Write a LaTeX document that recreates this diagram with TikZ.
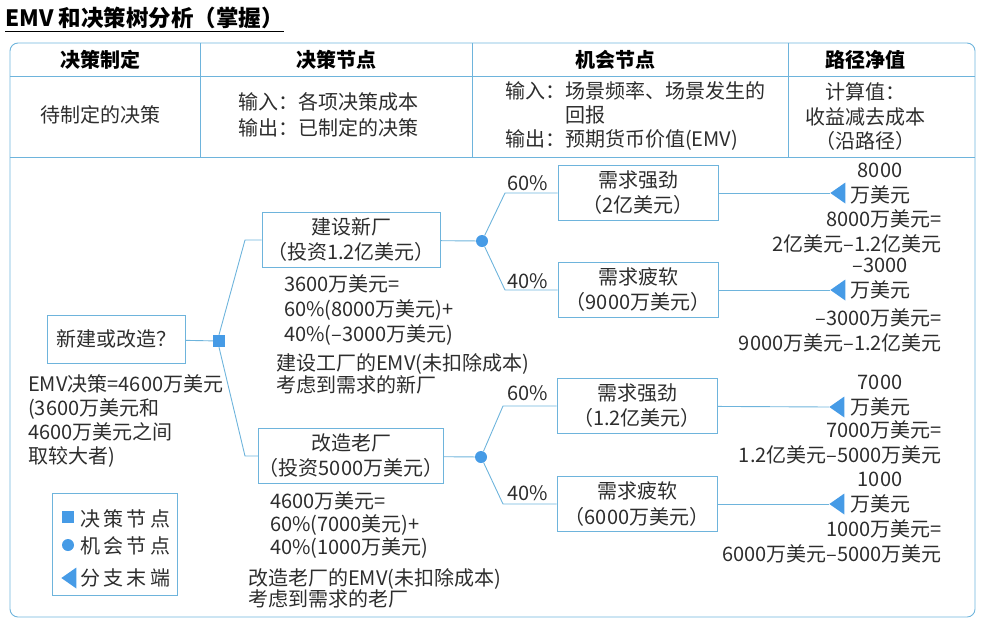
\documentclass[tikz,border=0pt]{standalone}
\usepackage{fontspec}
\setmainfont{Noto Sans CJK SC}
\usepackage{tikz}
\usetikzlibrary{shapes.geometric,positioning}
\definecolor{lineblue}{RGB}{110,180,220}
\definecolor{nodeblue}{RGB}{70,155,230}
\definecolor{inkgray}{RGB}{45,45,45}

\begin{document}
\begin{tikzpicture}[x=1pt,y=-1pt,
  txt/.style={font=\fontsize{20}{25}\selectfont,text=inkgray,inner sep=0pt,align=center},
  lefttxt/.style={txt,align=left,anchor=west},
  righttxt/.style={txt,align=right,anchor=east},
  hd/.style={txt,font=\fontsize{20}{25}\selectfont\bfseries,text=black},
  optbox/.style={txt,draw=lineblue,line width=0.9pt,minimum width=178pt,minimum height=55pt},
  outbox/.style={optbox,minimum width=160pt},
  decnode/.style={rectangle,fill=nodeblue,minimum size=12pt,inner sep=0pt},
  chnode/.style={circle,fill=nodeblue,minimum size=12pt,inner sep=0pt},
  endnode/.style={isosceles triangle,isosceles triangle apex angle=70,shape border rotate=180,
                  fill=nodeblue,minimum height=15pt,inner sep=0pt},
  ln/.style={lineblue,line width=0.9pt}
]
\useasboundingbox (0,0) rectangle (988,630);

% title
\node[anchor=west,inner sep=0pt,font=\fontsize{22.5}{25}\selectfont\bfseries] (title) at (5,18) {EMV 和决策树分析（掌握）};
\draw[black,line width=0.8pt] ([yshift=-2pt]title.south west) -- ([yshift=-2pt]title.south east);

% table
\draw[ln,rounded corners=8pt] (10,43) rectangle (975,617);
\draw[ln] (10,76) -- (975,76);
\draw[ln] (10,157) -- (975,157);
\foreach \cx in {200,472,788} \draw[ln] (\cx,43) -- (\cx,157);

\node[hd] (h1) at (100,60) {决策制定};
\node[hd] (h2) at (336,60) {决策节点};
\node[hd] (h3) at (615,60) {机会节点};
\node[hd] (h4) at (865,60) {路径净值};

\node[txt] (r1) at (100,115) {待制定的决策};
\node[lefttxt,font=\fontsize{20}{26}\selectfont] (r2) at (238,115) {输入：各项决策成本\\输出：已制定的决策};
\node[lefttxt,font=\fontsize{20}{24}\selectfont] (r3) at (505,116) {输入：场景频率、场景发生的\\\hspace*{3em}回报\\输出：预期货币价值(EMV)};
\node[txt,font=\fontsize{20}{24.5}\selectfont] (r4) at (865,117) {计算值：\\收益减去成本\\（沿路径）};

% tree
\node[optbox,minimum width=138pt,minimum height=48pt] (q) at (116,339) {新建或改造？};
\node[decnode] (dec) at (219,341) {};
\node[optbox] (newp) at (351,240) {建设新厂\\（投资1.2亿美元）};
\node[optbox] (oldp) at (351,456) {改造老厂\\（投资5000万美元）};
\node[chnode] (c1) at (482,241) {};
\node[chnode] (c2) at (481,457) {};
\node[outbox] (s1) at (638,193) {需求强劲\\（2亿美元）};
\node[outbox] (s2) at (638,290) {需求疲软\\（9000万美元）};
\node[outbox] (s3) at (637,406) {需求强劲\\（1.2亿美元）};
\node[outbox] (s4) at (637,504) {需求疲软\\（6000万美元）};
\node[endnode,anchor=apex] (e1) at (830,193) {};
\node[endnode,anchor=apex] (e2) at (830,290) {};
\node[endnode,anchor=apex] (e3) at (829,407) {};
\node[endnode,anchor=apex] (e4) at (829,504) {};

\coordinate (k1) at (245,240);
\coordinate (k2) at (245,456);
\coordinate (k3) at (505,193);
\coordinate (k4) at (505,290);
\coordinate (k5) at (503,406);
\coordinate (k6) at (503,504);

\draw[ln] (q) -- (dec);
\draw[ln] (dec.north) -- (k1) -- (newp.west);
\draw[ln] (dec.south) -- (k2) -- (oldp.west);
\draw[ln] (newp) -- (c1);
\draw[ln] (oldp) -- (c2);
\draw[ln] (c1) -- (k3) -- (s1.west);
\draw[ln] (c1) -- (k4) -- (s2.west);
\draw[ln] (c2) -- (k5) -- (s3.west);
\draw[ln] (c2) -- (k6) -- (s4.west);
\draw[ln] (s1) -- (e1.apex);
\draw[ln] (s2) -- (e2.apex);
\draw[ln] (s3) -- (e3.apex);
\draw[ln] (s4) -- (e4.apex);

\node[txt] (p1) at (528,183) {60\%};
\node[txt] (p2) at (528,281) {40\%};
\node[txt] (p3) at (528,393) {60\%};
\node[txt] (p4) at (528,493) {40\%};

% values at branch ends
\node[txt] (v1a) at (880,184) {8000\\万美元};
\node[righttxt] (v1b) at (942,231) {8000万美元=\\2亿美元–1.2亿美元};
\node[txt] (v2a) at (880,279) {–3000\\万美元};
\node[righttxt] (v2b) at (942,330) {–3000万美元=\\9000万美元–1.2亿美元};
\node[txt] (v3a) at (880,396) {7000\\万美元};
\node[righttxt] (v3b) at (942,442) {7000万美元=\\1.2亿美元–5000万美元};
\node[txt] (v4a) at (880,493) {1000\\万美元};
\node[righttxt] (v4b) at (942,541) {1000万美元=\\6000万美元–5000万美元};

% EMV notes
\node[lefttxt] (emv1) at (284,310) {3600万美元=\\60\%(8000万美元)+\\40\%(–3000万美元)};
\node[lefttxt,font=\fontsize{20}{22}\selectfont] (emv1t) at (276,374) {建设工厂的EMV(未扣除成本)\\考虑到需求的新厂};
\node[lefttxt,font=\fontsize{20}{23}\selectfont] (emv2) at (270,525) {4600万美元=\\60\%(7000美元)+\\40\%(1000万美元)};
\node[lefttxt,font=\fontsize{20}{21}\selectfont] (emv2t) at (248,588) {改造老厂的EMV(未扣除成本)\\考虑到需求的老厂};
\node[lefttxt,font=\fontsize{20}{24}\selectfont] (emvd) at (28,421) {EMV决策=4600万美元\\(3600万美元和\\4600万美元之间\\取较大者)};

% legend
\node[draw=lineblue,line width=0.9pt,minimum width=125pt,minimum height=102pt] (lgd) at (114.5,544) {};
\node[decnode] (l1) at (68,517) {};
\node[chnode] (l2) at (68,545) {};
\node[endnode,anchor=apex] (l3) at (61,578) {};
\node[lefttxt] (l1t) at (80,519) {决\,策\,节\,点};
\node[lefttxt] (l2t) at (80,546) {机\,会\,节\,点};
\node[lefttxt] (l3t) at (80,578) {分\,支\,末\,端};
\end{tikzpicture}
\end{document}
